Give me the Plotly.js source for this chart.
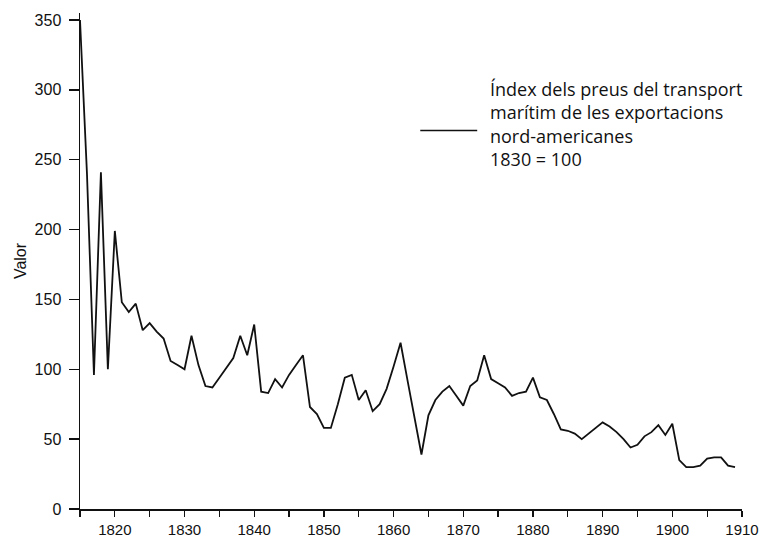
<!DOCTYPE html>
<html>
<head>
<meta charset="utf-8">
<script src="https://cdn.plot.ly/plotly-3.0.1.min.js"></script>
<style>
  html, body { margin: 0; padding: 0; background: #ffffff; }
  #chart { width: 763px; height: 537px; }
</style>
</head>
<body>
<div id="chart"></div>
<script>
// Data
const years = [
  1815, 1816, 1817, 1818, 1819, 1820, 1821, 1822, 1823, 1824,
  1825, 1826, 1827, 1828, 1829, 1830, 1831, 1832, 1833, 1834,
  1835, 1836, 1837, 1838, 1839, 1840, 1841, 1842, 1843, 1844,
  1845, 1846, 1847, 1848, 1849, 1850, 1851, 1852, 1853, 1854,
  1855, 1856, 1857, 1858, 1859, 1860, 1861, 1862, 1863, 1864,
  1865, 1866, 1867, 1868, 1869, 1870, 1871, 1872, 1873, 1874,
  1875, 1876, 1877, 1878, 1879, 1880, 1881, 1882, 1883, 1884,
  1885, 1886, 1887, 1888, 1889, 1890, 1891, 1892, 1893, 1894,
  1895, 1896, 1897, 1898, 1899, 1900, 1901, 1902, 1903, 1904,
  1905, 1906, 1907, 1908, 1909
];
const freightIndex = [
  350, 240, 96, 241, 100, 199, 148, 141, 147, 128,
  133, 127, 122, 106, 103, 100, 124, 103, 88, 87,
  94, 101, 108, 124, 110, 132, 84, 83, 93, 87,
  96, 103, 110, 73, 68, 58, 58, 75, 94, 96,
  78, 85, 70, 75, 86, 102, 119, 92, 66, 39,
  67, 78, 84, 88, 81, 74, 88, 92, 110, 93,
  90, 87, 81, 83, 84, 94, 80, 78, 68, 57,
  56, 54, 50, 54, 58, 62, 59, 55, 50, 44,
  46, 52, 55, 60, 53, 61, 35, 30, 30, 31,
  36, 37, 37, 31, 30
];
const seriesName = "Índex dels preus del transport<br>marítim de les exportacions<br>nord-americanes<br>1830 = 100";
const xTickValues = [1820, 1830, 1840, 1850, 1860, 1870, 1880, 1890, 1900, 1910];
const yTickValues = [0, 50, 100, 150, 200, 250, 300, 350];
const yTitle = "Valor";

const axisFont = { family: "Liberation Sans, Arial, sans-serif", size: 16, color: "#111111" };
const xFont = { family: "Liberation Sans, Arial, sans-serif", size: 15, color: "#111111" };

const trace = {
  x: years,
  y: freightIndex,
  type: "scatter",
  mode: "lines",
  name: seriesName,
  line: { color: "#111111", width: 1.8 },
  showlegend: false,
  hoverinfo: "x+y"
};

const layout = {
  width: 763,
  height: 537,
  margin: { l: 80, r: 21, t: 13, b: 28, pad: 0 },
  paper_bgcolor: "#ffffff",
  plot_bgcolor: "#ffffff",
  font: axisFont,
  xaxis: {
    range: [1815, 1910],
    tickmode: "array",
    tickvals: xTickValues,
    ticktext: xTickValues.map(String),
    ticks: "outside",
    ticklen: 6,
    tickwidth: 1.3,
    tickcolor: "#111111",
    ticklabelstandoff: 0,
    minor: { dtick: 5, tick0: 1815, ticks: "outside", ticklen: 6, tickwidth: 1.3, tickcolor: "#111111", showgrid: false },
    showline: true,
    linecolor: "#111111",
    linewidth: 1.5,
    showgrid: false,
    zeroline: false,
    tickfont: xFont
  },
  yaxis: {
    range: [0, 355],
    tickmode: "array",
    tickvals: yTickValues,
    ticktext: yTickValues.map(String),
    ticks: "outside",
    ticklen: 10,
    tickwidth: 1.3,
    tickcolor: "#111111",
    ticklabelstandoff: 4,
    showline: true,
    linecolor: "#111111",
    linewidth: 1.5,
    showgrid: false,
    zeroline: false,
    tickfont: axisFont,
    title: { text: yTitle, font: axisFont, standoff: 4 }
  },
  shapes: [
    { type: "line", xref: "paper", yref: "paper", x0: 0.514, x1: 0.600, y0: 0.763, y1: 0.763,
      line: { color: "#111111", width: 1.6 } }
  ],
  annotations: [
    { xref: "paper", yref: "paper", x: 0.617, y: 0.876, xanchor: "left", yanchor: "top",
      align: "left", showarrow: false, text: seriesName,
      font: { family: "Open Sans, Lato, sans-serif", size: 18, color: "#111111" } }
  ]
};

Plotly.newPlot("chart", [trace], layout, { displayModeBar: false, staticPlot: true });
</script>
</body>
</html>
